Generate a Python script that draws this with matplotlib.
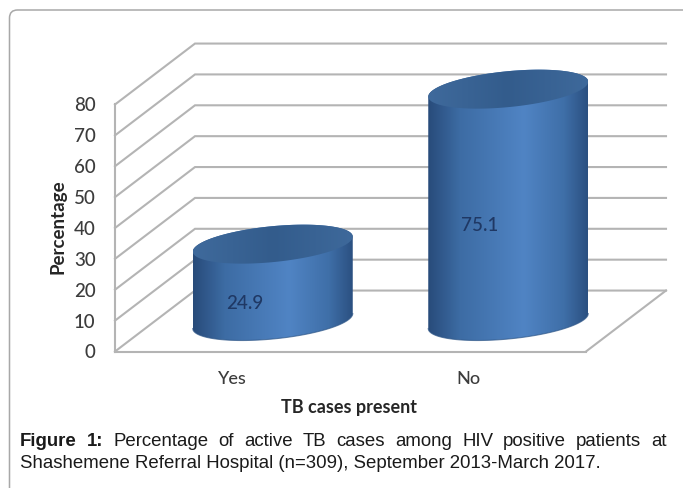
import numpy as np
import matplotlib
matplotlib.use("Agg")
import matplotlib.pyplot as plt
from matplotlib.colors import LinearSegmentedColormap
from matplotlib.patches import FancyBboxPatch, Polygon
from matplotlib.transforms import IdentityTransform

categories = ["Yes", "No"]
values = [24.9, 75.1]
yticks = [0, 10, 20, 30, 40, 50, 60, 70, 80]

caption_line1 = "Percentage of active TB cases among HIV positive patients at"
caption_line2 = "Shashemene Referral Hospital (n=309), September 2013-March 2017."

W, H = 683, 488
fig = plt.figure(figsize=(W / 100, H / 100), dpi=100)
fig.patch.set_facecolor("white")

# rounded panel behind everything, pixel coords
panel = FancyBboxPatch((9.5, -20), 690, H - 9.5 + 20 - 0.5, boxstyle="round,pad=0,rounding_size=8",
                       facecolor="white", edgecolor="#a8a8a8", linewidth=1.1, zorder=-1)
fig.add_artist(panel)
panel.set_transform(IdentityTransform())

# front plane of the 3d box
ax = fig.add_axes([115 / W, (H - 351.5) / H, 471 / W, 247 / H])
ax.patch.set_alpha(0)
ax.set_xlim(0, 2)
ax.set_ylim(0, 80)

dx = 80 / 235.5
dy = 61 / 3.09
grid_c = "#b4b4b4"

for v in yticks:
    ax.plot([0, dx, 2 + dx], [v, v + dy, v + dy], color=grid_c, lw=1.5, clip_on=False,
            solid_joinstyle="miter", zorder=1)
ax.plot([2, 2 + dx], [0, dy], color=grid_c, lw=1.5, clip_on=False, zorder=1)

for s in ["top", "right"]:
    ax.spines[s].set_visible(False)
for s in ["left", "bottom"]:
    ax.spines[s].set_color(grid_c)
    ax.spines[s].set_linewidth(1.5)

ax.set_xticks([0.5, 1.5])
ax.set_xticklabels(categories, fontsize=13, family="Lato", fontweight="medium", color="#3c3c3c")
ax.set_yticks(yticks)
ax.set_yticklabels([str(v) for v in yticks], fontsize=13.5, family="Lato", fontweight="medium",
                   color="#3c3c3c")
ax.tick_params(axis="both", length=0)
ax.tick_params(axis="x", pad=14)
ax.tick_params(axis="y", pad=14)

body_cmap = LinearSegmentedColormap.from_list(
    "body", [(0, "#284b7a"), (0.2, "#3d6ca4"), (0.6, "#5084c4"), (0.85, "#3f6fa8"), (1, "#2b5081")])
top_cmap = LinearSegmentedColormap.from_list(
    "top", [(0, "#3f6a9c"), (0.5, "#335c8c"), (1, "#3e699b")])

w = 80 / 235.5
h = 18 / 3.09
shear = 7.5 / 3.09
grad = np.linspace(0, 1, 256).reshape(1, -1)


def ellipse(cx, cy, t):
    return np.column_stack([cx + w * np.cos(t), cy + shear * np.cos(t) + h * np.sin(t)])


for i, v in enumerate(values):
    cx = i + 0.5 + dx / 2
    cy0 = dy / 2
    cy1 = cy0 + v
    lower = ellipse(cx, cy0, np.linspace(np.pi, 2 * np.pi, 80))
    upper = ellipse(cx, cy1, np.linspace(0, np.pi, 80))
    body = Polygon(np.vstack([lower, upper]), closed=True, facecolor="none", edgecolor="none",
                   transform=ax.transData, clip_on=False, zorder=3)
    ax.add_patch(body)
    im = ax.imshow(grad, cmap=body_cmap, aspect="auto", zorder=3,
                   extent=[cx - w, cx + w, cy0 - h - shear, cy1 + h + shear])
    im.set_clip_box(fig.bbox)
    im.set_clip_path(body)
    ax.plot(lower[:, 0], lower[:, 1], color="#2f5788", lw=0.8, alpha=0.7, clip_on=False, zorder=4)

    top = Polygon(ellipse(cx, cy1, np.linspace(0, 2 * np.pi, 160)), closed=True, facecolor="none",
                  edgecolor="none", transform=ax.transData, clip_on=False, zorder=5)
    ax.add_patch(top)
    im2 = ax.imshow(grad, cmap=top_cmap, aspect="auto", zorder=5,
                    extent=[cx - w, cx + w, cy1 - h - shear, cy1 + h + shear])
    im2.set_clip_box(fig.bbox)
    im2.set_clip_path(top)

    ax.text(i + 0.5 + 0.05, v / 2 + 3.2, f"{v}", ha="center", va="center", fontsize=13.5,
            family="Lato", fontweight="medium", color="#1f3864", zorder=6)

ax.set_xlim(0, 2)
ax.set_ylim(0, 80)

fig.text(349 / W, 1 - 407 / H, "TB cases present", ha="center", va="center", fontsize=13,
         family="Lato", fontweight="bold", color="#262626")
fig.text(58 / W, 1 - 227 / H, "Percentage", ha="center", va="center", rotation=90, fontsize=13.5,
         family="Lato", fontweight="bold", color="#262626")

# caption, first line justified word by word
cap_font = dict(family="Liberation Sans", fontsize=13.4, color="#1a1a1a", va="center")
renderer = fig.canvas.get_renderer()
left, right = 20, 667
words = [("Figure", "bold"), ("1:", "bold")] + [(t, "normal") for t in caption_line1.split()]
items = [fig.text(0, 1 - 441 / H, t, fontweight=fw, **cap_font) for t, fw in words]
widths = [it.get_window_extent(renderer).width for it in items]
gap = (right - left - sum(widths)) / (len(items) - 1)
x = left
for it, wd in zip(items, widths):
    it.set_x(x / W)
    x += wd + gap
fig.text(left / W, 1 - 463 / H, caption_line2, **cap_font)

fig.savefig("out.png", dpi=100)
